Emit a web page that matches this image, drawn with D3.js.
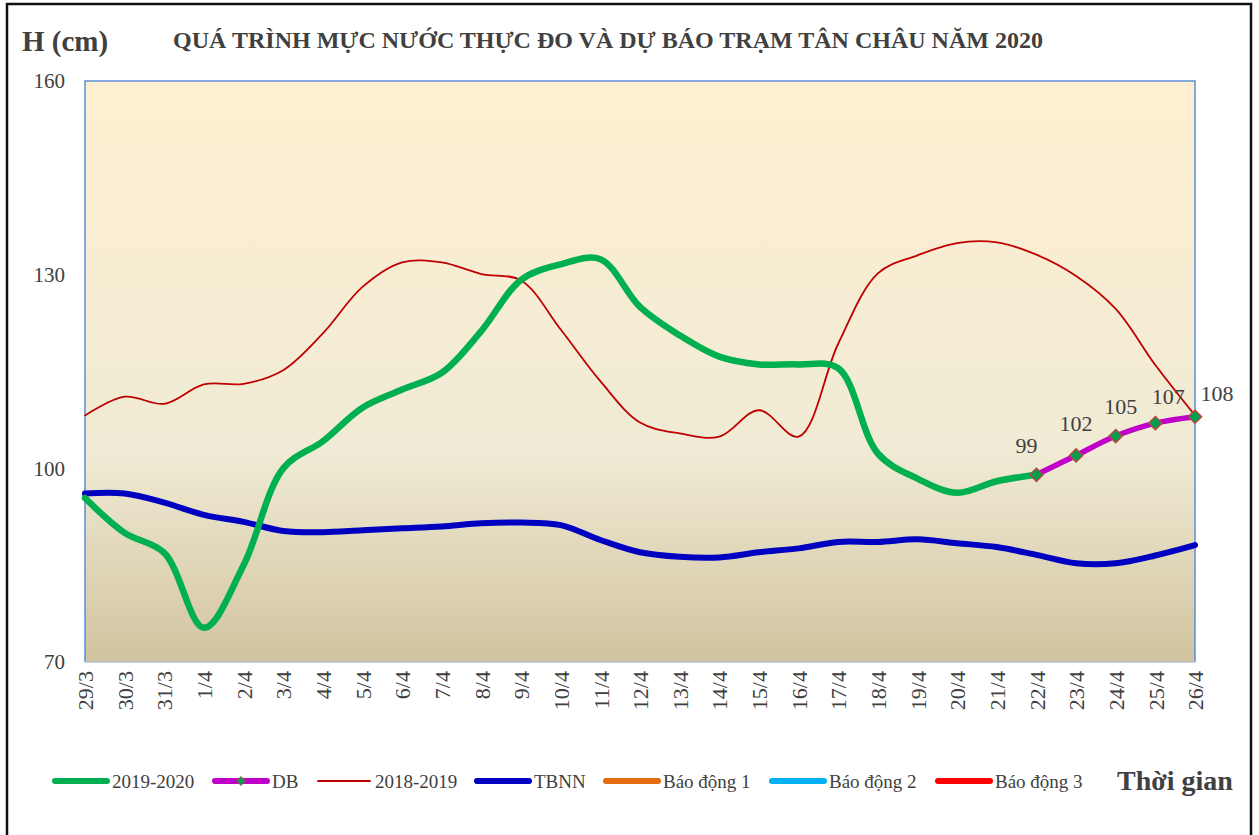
<!DOCTYPE html>
<html>
<head>
<meta charset="utf-8">
<script src="https://cdn.jsdelivr.net/npm/d3@7"></script>
<style>
  body { margin: 0; background: #fff; }
  svg text { font-family: "Liberation Serif", "Times New Roman", serif; fill: #404040; }
</style>
</head>
<body>
<svg id="chart" width="1259" height="835"></svg>
<script>
// dates on the x axis
const dates = ['29/3', '30/3', '31/3', '1/4', '2/4', '3/4', '4/4', '5/4', '6/4', '7/4',
  '8/4', '9/4', '10/4', '11/4', '12/4', '13/4', '14/4', '15/4', '16/4', '17/4',
  '18/4', '19/4', '20/4', '21/4', '22/4', '23/4', '24/4', '25/4', '26/4'];

// measured 2019-2020 (up to 22/4)
const obs2020 = [95.4, 90, 86.9, 75.3, 85, 100, 104.2, 109.4, 112.2, 114.8,
  121.3, 129.2, 131.6, 132.4, 125, 120.6, 117.3, 116.1, 116.1, 115.5,
  102.3, 98.4, 96.2, 98, 99];

// forecast DB 22/4 -> 26/4
const dbDates = ['22/4', '23/4', '24/4', '25/4', '26/4'];
const dbValues = [99, 102, 105, 107, 108];

// 2018-2019
const obs2019 = [108.2, 111.1, 110, 113, 113.1, 115.2, 120.9, 128.1, 131.9, 131.9,
  130.1, 129.1, 121.5, 113.5, 107.1, 105.4, 104.9, 109, 104.9, 119.3,
  130.2, 133, 134.9, 135, 133.1, 129.8, 124.7, 116, 108.2];

// TBNN (average)
const tbnn = [96.1, 96.1, 94.7, 92.8, 91.7, 90.3, 90.1, 90.4, 90.7, 91,
  91.5, 91.6, 91.2, 88.9, 87, 86.3, 86.2, 87, 87.6, 88.6,
  88.6, 89, 88.4, 87.8, 86.6, 85.3, 85.3, 86.5, 88.1];

const yTicks = [70, 100, 130, 160];

const legendItems = [
  { name: '2019-2020', color: '#00b050', width: 6 },
  { name: 'DB', color: '#c000c8', width: 6, marker: true },
  { name: '2018-2019', color: '#c00000', width: 2 },
  { name: 'TBNN', color: '#0000c0', width: 6 },
  { name: 'Báo động 1', color: '#e46c0a', width: 6 },
  { name: 'Báo động 2', color: '#00b0f0', width: 6 },
  { name: 'Báo động 3', color: '#ff0000', width: 6 }
];

const svg = d3.select('#chart');
const plot = { left: 85, right: 1195, top: 81, bottom: 662 };

// outer frame
svg.append('rect')
  .attr('x', 7).attr('y', 4)
  .attr('width', 1244).attr('height', 840)
  .attr('fill', 'none').attr('stroke', '#111').attr('stroke-width', 2.5);

// plot background (parchment gradient)
const grad = svg.append('defs').append('linearGradient')
  .attr('id', 'bg').attr('x1', 0).attr('y1', 0).attr('x2', 0).attr('y2', 1);
grad.append('stop').attr('offset', '0%').attr('stop-color', '#ffefd1');
grad.append('stop').attr('offset', '64%').attr('stop-color', '#f0ebd5');
grad.append('stop').attr('offset', '100%').attr('stop-color', '#d1c39f');

svg.append('rect')
  .attr('x', plot.left).attr('y', plot.top)
  .attr('width', plot.right - plot.left).attr('height', plot.bottom - plot.top)
  .attr('fill', 'url(#bg)');

const x = d3.scalePoint().domain(dates).range([plot.left, plot.right]);
const y = d3.scaleLinear().domain([70, 160]).range([plot.bottom, plot.top]);

// plot border: blue on left/top/right, grey bottom
svg.append('path')
  .attr('d', `M${plot.left},${plot.bottom}V${plot.top}H${plot.right}V${plot.bottom}`)
  .attr('fill', 'none').attr('stroke', '#5b8fd6').attr('stroke-width', 1.5);
svg.append('line')
  .attr('x1', plot.left).attr('x2', plot.right)
  .attr('y1', plot.bottom).attr('y2', plot.bottom)
  .attr('stroke', '#b9c3d3').attr('stroke-width', 1.5);

// axes
const yAxis = svg.append('g')
  .attr('transform', `translate(${plot.left},0)`)
  .call(d3.axisLeft(y).tickValues(yTicks).tickSize(0).tickPadding(20));
yAxis.select('.domain').remove();
yAxis.selectAll('text').style('font-size', '21px').style('fill', '#404040')
  .style('font-family', '"Liberation Serif", serif');

const xAxis = svg.append('g')
  .attr('transform', `translate(0,${plot.bottom})`)
  .call(d3.axisBottom(x).tickSize(0));
xAxis.select('.domain').remove();
xAxis.selectAll('text')
  .attr('transform', 'rotate(-90)')
  .attr('x', -9).attr('y', 0).attr('dy', '0.35em')
  .style('text-anchor', 'end')
  .style('font-size', '22px').style('fill', '#404040')
  .style('font-family', '"Liberation Serif", serif');

// lines
const line = d3.line()
  .x((d) => x(d[0]))
  .y((d) => y(d[1]))
  .curve(d3.curveCatmullRom.alpha(0.5));

const series = [
  { data: d3.zip(dates, obs2019), color: '#c00000', width: 1.8 },
  { data: d3.zip(dates, tbnn), color: '#0000c0', width: 6 },
  { data: d3.zip(dates, obs2020), color: '#00b050', width: 6.5 },
  { data: d3.zip(dbDates, dbValues), color: '#c000c8', width: 5.5 }
];

svg.append('g').selectAll('path')
  .data(series)
  .enter()
  .append('path')
  .attr('d', (d) => line(d.data))
  .attr('fill', 'none')
  .attr('stroke', (d) => d.color)
  .attr('stroke-width', (d) => d.width)
  .attr('stroke-linejoin', 'round')
  .attr('stroke-linecap', 'round');

// DB markers
const diamond = d3.symbol().type(d3.symbolDiamond2).size(110);
svg.append('g').selectAll('path')
  .data(d3.zip(dbDates, dbValues))
  .enter()
  .append('path')
  .attr('d', diamond)
  .attr('transform', (d) => `translate(${x(d[0])},${y(d[1])})`)
  .attr('fill', '#00a050')
  .attr('stroke', '#b5493f')
  .attr('stroke-width', 1.5);

// DB labels
const labelDx = [-10, 0, 5, 13, 22];
const labelDy = [-22, -24, -22, -19, -16];
svg.append('g').selectAll('text')
  .data(d3.zip(dbDates, dbValues))
  .enter()
  .append('text')
  .attr('x', (d, i) => x(d[0]) + labelDx[i])
  .attr('y', (d, i) => y(d[1]) + labelDy[i])
  .attr('text-anchor', 'middle')
  .style('font-size', '22px')
  .text((d) => d[1]);

// titles
svg.append('text')
  .attr('x', 22).attr('y', 51)
  .style('font-size', '29px').style('font-weight', 'bold')
  .text('H (cm)');

svg.append('text')
  .attr('x', 173).attr('y', 48)
  .attr('textLength', 870).attr('lengthAdjust', 'spacingAndGlyphs')
  .style('font-size', '23px').style('font-weight', 'bold')
  .text('QUÁ TRÌNH MỰC NƯỚC THỰC ĐO VÀ DỰ BÁO TRẠM  TÂN CHÂU NĂM 2020');

svg.append('text')
  .attr('x', 1117).attr('y', 790)
  .style('font-size', '28px').style('font-weight', 'bold')
  .text('Thời gian');

// legend
const legendX = [55, 215, 318, 477, 606, 772, 938];
const legendY = 781;
const legend = svg.append('g')
  .selectAll('g')
  .data(legendItems)
  .enter()
  .append('g')
  .attr('transform', (d, i) => `translate(${legendX[i]},${legendY})`);

legend.append('line')
  .attr('x1', 0).attr('x2', 52)
  .attr('stroke', (d) => d.color)
  .attr('stroke-width', (d) => d.width)
  .attr('stroke-linecap', 'round');

legend.filter((d) => d.marker)
  .append('path')
  .attr('d', d3.symbol().type(d3.symbolDiamond2).size(50))
  .attr('transform', 'translate(26,0)')
  .attr('fill', '#00a050')
  .attr('stroke', '#b5493f')
  .attr('stroke-width', 1);

legend.append('text')
  .attr('x', 57).attr('y', 0).attr('dy', '0.35em')
  .style('font-size', '19px')
  .text((d) => d.name);
</script>
</body>
</html>
